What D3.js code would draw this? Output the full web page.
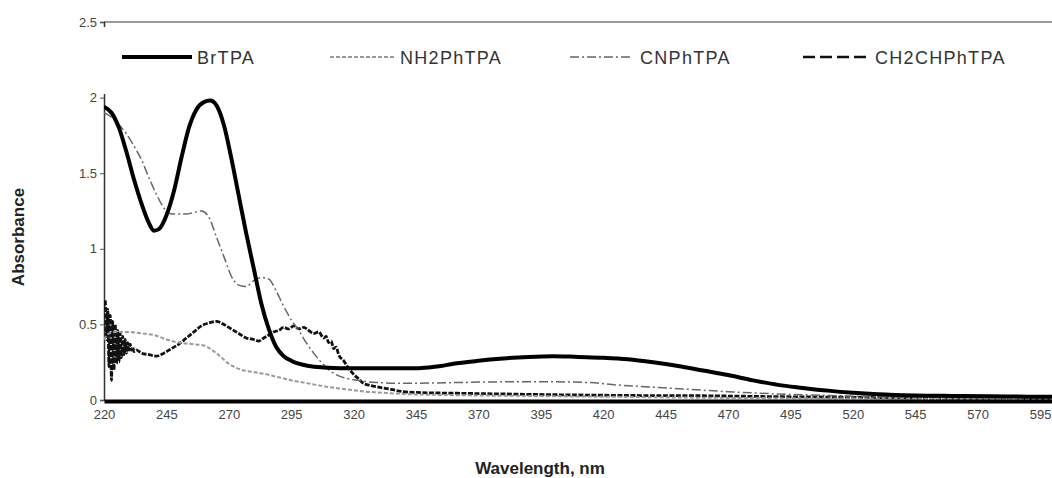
<!DOCTYPE html>
<html><head><meta charset="utf-8">
<script src="https://cdn.jsdelivr.net/npm/d3@7"></script>
<style>
html,body{margin:0;padding:0;background:#fff;}
svg{display:block;font-family:"Liberation Sans",Arial,sans-serif;}
</style></head>
<body><svg id="chart" width="1052" height="478"></svg>
<script>
const seriesNames = ["BrTPA","NH2PhTPA","CNPhTPA","CH2CHPhTPA"];
const xTicks = [220,245,270,295,320,345,370,395,420,445,470,495,520,545,570,595];
const yTicks = [0,0.5,1,1.5,2,2.5];
const yTickLabels = ["0","0.5","1","1.5","2","2.5"];

const brWl  = [220,223,226,229,232,235,238,240,242,245,248,251,254,257,260,262.5,265,268,271,274,277,280,283,286,289,292,295,298,302,308,315,325,335,345,350,355,360,365,370,380,390,400,410,420,430,440,450,460,470,480,490,500,510,520,530,545,560,575,590,610];
const brAbs = [1.94,1.90,1.80,1.64,1.46,1.30,1.17,1.12,1.13,1.22,1.38,1.60,1.80,1.92,1.97,1.98,1.95,1.82,1.60,1.35,1.10,0.87,0.64,0.47,0.35,0.29,0.26,0.24,0.225,0.215,0.21,0.21,0.21,0.21,0.215,0.225,0.24,0.25,0.26,0.275,0.285,0.29,0.285,0.28,0.27,0.25,0.225,0.195,0.165,0.13,0.10,0.08,0.062,0.048,0.038,0.03,0.027,0.025,0.022,0.02];

const nhWl  = [220,222,225,230,235,240,245,250,255,260,265,270,275,280,285,290,295,300,305,310,315,320,325,330,340,350,370,400,430,460,490,520,560,610];
const nhAbs = [0.40,0.44,0.45,0.45,0.44,0.43,0.40,0.38,0.37,0.36,0.31,0.24,0.20,0.185,0.17,0.15,0.13,0.115,0.10,0.085,0.075,0.065,0.055,0.05,0.04,0.035,0.03,0.025,0.02,0.015,0.012,0.01,0.008,0.006];

const cnWl  = [220,223,226,229,232,235,238,241,244,247,250,253,256,259,262,265,268,271,274,277,280,283,286,289,292,295,298,301,304,307,310,314,318,322,326,330,340,360,380,400,415,425,435,450,470,490,510,530,560,610];
const cnAbs = [1.90,1.87,1.82,1.76,1.68,1.59,1.47,1.36,1.27,1.23,1.23,1.23,1.24,1.25,1.21,1.08,0.95,0.82,0.76,0.75,0.79,0.81,0.80,0.72,0.62,0.53,0.46,0.38,0.31,0.25,0.20,0.16,0.14,0.13,0.12,0.115,0.11,0.115,0.12,0.12,0.115,0.10,0.09,0.075,0.055,0.04,0.03,0.022,0.015,0.01];

const chWl  = [220,220.5,221,221.5,222,222.5,223,223.5,224,224.5,225,225.5,226,226.5,227,227.5,228,228.5,229,229.5,230,230.5,231,231.5,232,233,235,238,241,244,247,250,253,256,259,262,265,268,271,274,277,280,282,284,286,288,290,292,294,296,298,300,302,304,306,308,309,310,311,312,313,314,316,318,320,322,324,327,330,335,340,345,360,380,400,430,460,490,520,550,580,610];
const chAbs = [0.62,0.66,0.40,0.60,0.22,0.56,0.13,0.52,0.20,0.50,0.24,0.46,0.25,0.44,0.28,0.42,0.30,0.40,0.31,0.38,0.33,0.37,0.33,0.35,0.32,0.33,0.31,0.30,0.29,0.31,0.34,0.37,0.41,0.45,0.49,0.51,0.52,0.50,0.47,0.44,0.41,0.40,0.39,0.41,0.43,0.45,0.46,0.48,0.47,0.49,0.47,0.48,0.46,0.44,0.45,0.41,0.42,0.38,0.39,0.34,0.35,0.30,0.26,0.21,0.17,0.14,0.11,0.095,0.085,0.07,0.055,0.05,0.045,0.04,0.035,0.03,0.028,0.022,0.018,0.012,0.01,0.008];

const svg = d3.select("#chart");
const x = d3.scaleLinear().domain([220,600]).range([104,1052.5]);
const y = d3.scaleLinear().domain([0,2.5]).range([400,22]);

svg.append("defs").append("clipPath").attr("id","clip")
  .append("rect").attr("x",104).attr("y",0).attr("width",950).attr("height",402);

// top gridline at 2.5
svg.append("line").attr("x1",104).attr("x2",1052).attr("y1",y(2.5)).attr("y2",y(2.5))
  .attr("stroke","#9a9a9a").attr("stroke-width",2);

// y axis
const yAxis = svg.append("g").attr("transform","translate(104,0)")
  .call(d3.axisLeft(y).tickValues(yTicks).tickFormat((d,i)=>yTickLabels[i]).tickSize(4).tickPadding(3));
yAxis.select(".domain").attr("stroke","#333").attr("stroke-width",1.5);
yAxis.selectAll(".tick line").attr("stroke","#555");
yAxis.selectAll("text").attr("font-size",13).attr("fill","#444").attr("font-family","Liberation Sans, Arial, sans-serif");

const styles = [
  {stroke:"#000", width:4, dash:null},
  {stroke:"#9a9a9a", width:2, dash:"4,2"},
  {stroke:"#666", width:1.5, dash:"9,3,2,3"},
  {stroke:"#111", width:2.8, dash:"5,1.5"}
];
const data = [[brWl,brAbs],[nhWl,nhAbs],[cnWl,cnAbs],[chWl,chAbs]];
const line = d3.line().x(d=>x(d[0])).y(d=>y(d[1])).curve(d3.curveMonotoneX);
const plot = svg.append("g").attr("clip-path","url(#clip)");
[3,2,1,0].forEach(i=>{
  const pts = data[i][0].map((w,k)=>[w,data[i][1][k]]);
  plot.append("path").datum(pts).attr("d",line).attr("fill","none")
    .attr("stroke",styles[i].stroke).attr("stroke-width",styles[i].width)
    .attr("stroke-dasharray",styles[i].dash).attr("stroke-linejoin","round");
});

// x axis
const xAxis = svg.append("g").attr("transform","translate(0,401)")
  .call(d3.axisBottom(x).tickValues(xTicks).tickSize(0).tickPadding(9));
xAxis.select(".domain").attr("stroke","#000").attr("stroke-width",4);
xAxis.selectAll("text").attr("font-size",13).attr("fill","#444").attr("font-family","Liberation Sans, Arial, sans-serif");

// legend box (covers top of y axis)
const lg = svg.append("g");
lg.append("rect").attr("x",102).attr("y",27).attr("width",950).attr("height",67).attr("fill","#fff");
const legendX = [[122,192,197],[330,395,400],[570,630,640],[803,868,875]];
seriesNames.forEach((n,i)=>{
  lg.append("line").attr("x1",legendX[i][0]).attr("x2",legendX[i][1]).attr("y1",57).attr("y2",57)
    .attr("stroke",styles[i].stroke).attr("stroke-width",i===0?4:(i===3?2.5:styles[i].width))
    .attr("stroke-dasharray",i===3?"12,5":styles[i].dash);
  lg.append("text").attr("x",legendX[i][2]).attr("y",64).text(n)
    .attr("font-size",18).attr("letter-spacing",1.3).attr("fill","#333");
});

// axis titles
svg.append("text").attr("x",540).attr("y",474).attr("text-anchor","middle")
  .attr("font-size",17).attr("font-weight","bold").attr("fill","#222").text("Wavelength, nm");
svg.append("text").attr("transform","translate(24,237) rotate(-90)").attr("text-anchor","middle")
  .attr("font-size",17).attr("font-weight","bold").attr("fill","#222").text("Absorbance");
</script></body></html>
